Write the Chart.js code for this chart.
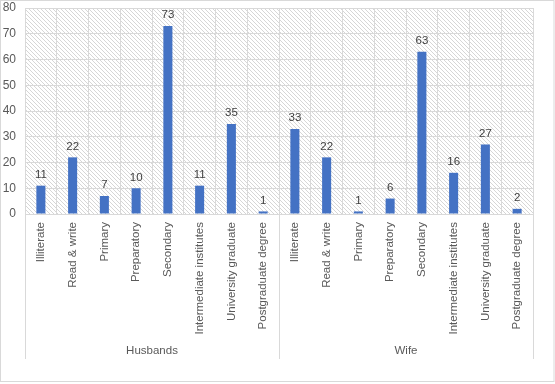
<!DOCTYPE html>
<html>
<head>
<meta charset="utf-8">
<script src="https://cdn.jsdelivr.net/npm/chart.js@4"></script>
<style>
  body { margin: 0; background: #fff; }
  #wrap { width: 555px; height: 384px; position: relative; }
</style>
</head>
<body>
<div id="wrap"><canvas id="chart"></canvas></div>
<script>
// Education level per group
const levels = ['Illiterate', 'Read & write', 'Primary', 'Preparatory', 'Secondary',
  'Intermediate institutes', 'University graduate', 'Postgraduate degree'];
const groups = ['Husbands', 'Wife'];
const husbands = [11, 22, 7, 10, 73, 11, 35, 1];
const wife = [33, 22, 1, 6, 63, 16, 27, 2];
const yTicks = [0, 10, 20, 30, 40, 50, 60, 70, 80];

const FONT = "'Liberation Sans', Arial, sans-serif";
const GRID = '#d9d9d9';
const TEXT = '#595959';

// hatched fill for the plot area
function makeHatch() {
  const c = document.createElement('canvas');
  c.width = 4; c.height = 4;
  const g = c.getContext('2d');
  g.fillStyle = '#fff';
  g.fillRect(0, 0, 4, 4);
  g.fillStyle = '#d6d6d6';
  for (let i = 0; i < 4; i++) g.fillRect(i, i, 1, 1);
  return c;
}

const backdrop = {
  id: 'backdrop',
  beforeDraw(chart) {
    const ctx = chart.ctx, a = chart.chartArea;
    ctx.save();
    ctx.fillStyle = '#fff';
    ctx.fillRect(0, 0, chart.width, chart.height);
    ctx.strokeStyle = GRID;
    ctx.lineWidth = 1;
    ctx.strokeRect(0.5, 0.5, chart.width - 1.5, 381);
    ctx.fillStyle = ctx.createPattern(makeHatch(), 'repeat');
    ctx.fillRect(a.left, a.top, a.right - a.left, a.bottom - a.top);
    ctx.restore();
  }
};

// value labels above bars
const valueLabels = {
  id: 'valueLabels',
  afterDatasetsDraw(chart) {
    const ctx = chart.ctx;
    const meta = chart.getDatasetMeta(0);
    const data = chart.data.datasets[0].data;
    ctx.save();
    ctx.font = '11.5px ' + FONT;
    ctx.fillStyle = '#404040';
    ctx.textAlign = 'center';
    ctx.textBaseline = 'bottom';
    meta.data.forEach((bar, i) => {
      ctx.fillText(String(data[i]), bar.x, bar.y - 5);
    });
    ctx.restore();
  }
};

// second level of the category axis
const groupAxis = {
  id: 'groupAxis',
  afterDraw(chart) {
    const ctx = chart.ctx, a = chart.chartArea, x = chart.scales.x;
    const n = levels.length;
    const bottom = 359;
    const edges = [a.left];
    for (let g = 1; g < groups.length; g++) {
      edges.push((x.getPixelForValue(g * n - 1) + x.getPixelForValue(g * n)) / 2);
    }
    edges.push(a.right);
    ctx.save();
    ctx.strokeStyle = GRID;
    ctx.lineWidth = 1;
    edges.forEach(e => {
      const px = Math.round(e) + 0.5;
      ctx.beginPath();
      ctx.moveTo(px, a.bottom);
      ctx.lineTo(px, bottom);
      ctx.stroke();
    });
    ctx.font = '11.5px ' + FONT;
    ctx.fillStyle = TEXT;
    ctx.textAlign = 'center';
    ctx.textBaseline = 'middle';
    groups.forEach((name, g) => {
      ctx.fillText(name, (edges[g] + edges[g + 1]) / 2, 351);
    });
    ctx.restore();
  }
};

const labels = [];
groups.forEach(() => levels.forEach(l => labels.push(l)));

new Chart(document.getElementById('chart'), {
  type: 'bar',
  data: {
    labels: labels,
    datasets: [{
      data: husbands.concat(wife),
      backgroundColor: '#4472C4',
      categoryPercentage: 1,
      barPercentage: 0.285
    }]
  },
  options: {
    responsive: true,
    maintainAspectRatio: false,
    animation: false,
    layout: { padding: { top: 8, right: 22, bottom: 0, left: 0 } },
    plugins: {
      legend: { display: false },
      tooltip: { enabled: false }
    },
    scales: {
      x: {
        afterFit(s) {
          s.height = 170;
          s.paddingLeft = 0; s.paddingRight = 0;
          s.paddingTop = 0; s.paddingBottom = 0;
        },
        border: { display: false },
        grid: { color: GRID, offset: true, drawTicks: false },
        ticks: {
          autoSkip: false,
          minRotation: 90,
          maxRotation: 90,
          padding: 8,
          color: TEXT,
          font: { family: FONT, size: 11.5 }
        }
      },
      y: {
        min: yTicks[0],
        max: yTicks[yTicks.length - 1],
        afterFit(s) {
          s.width = 25;
          s.paddingTop = 0; s.paddingBottom = 0;
        },
        afterBuildTicks(s) { s.ticks = yTicks.map(v => ({ value: v })); },
        border: { display: false },
        grid: { color: GRID, drawTicks: false },
        ticks: {
          padding: 9,
          color: TEXT,
          font: { family: FONT, size: 12 }
        }
      }
    }
  },
  plugins: [backdrop, valueLabels, groupAxis]
});
</script>
</body>
</html>
